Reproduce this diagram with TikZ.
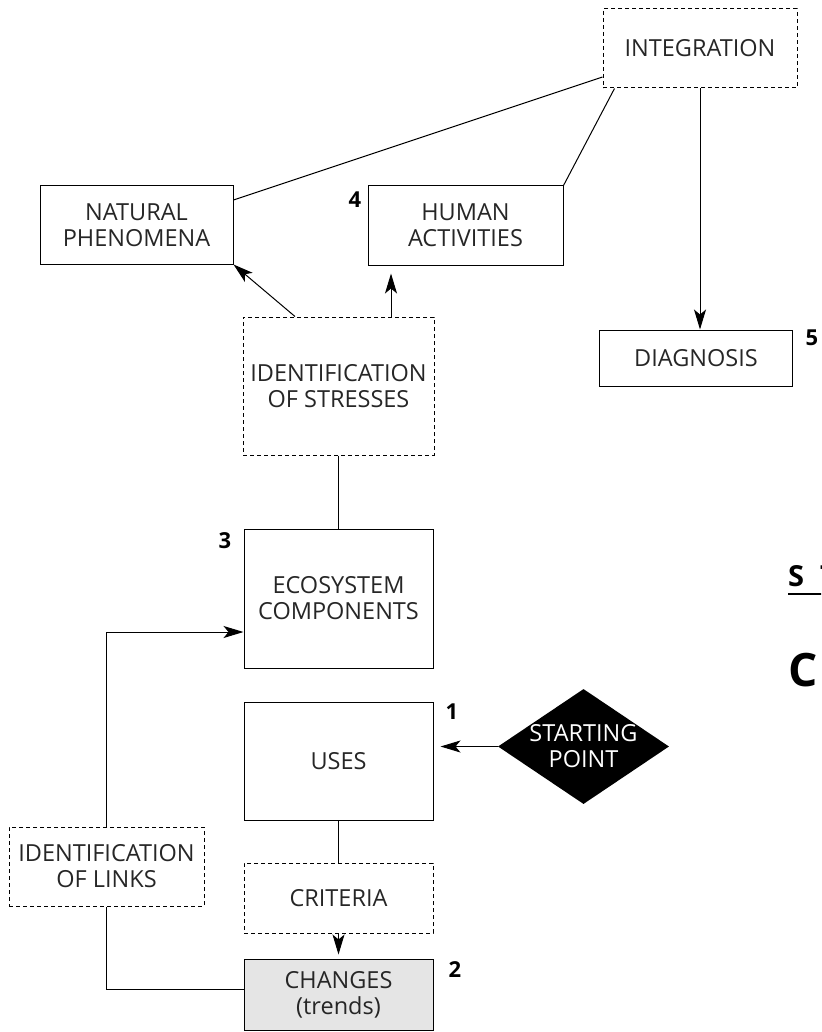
\documentclass[tikz,border=0pt]{standalone}
\usepackage{fontspec}
\setmainfont{Open Sans}
\usetikzlibrary{arrows.meta,shapes.geometric}

\tikzset{
  box/.style={draw, line width=1pt, align=center, inner sep=0pt,
    text=black!85, font=\fontsize{23.5}{26}\selectfont},
  dbox/.style={box, dash pattern=on 4pt off 3pt},
  num/.style={inner sep=0pt, font=\fontsize{22}{24}\selectfont\bfseries},
  arr/.style={-{Stealth[length=20pt,width=12pt,inset=5pt]}, line width=1pt},
}

\begin{document}
\begin{tikzpicture}[x=1pt,y=-1pt]
\useasboundingbox (0,0) rectangle (821,1032);
\clip (0,0) rectangle (821,1032);

% top part
\node[dbox, minimum width=194pt, minimum height=79pt] (integ) at (700,48.5) {INTEGRATION};
\node[box, minimum width=193pt, minimum height=78pt] (natural) at (136.5,225) {NATURAL\\PHENOMENA};
\node[box, minimum width=195pt, minimum height=79pt] (human) at (465.5,225.5) {HUMAN\\ACTIVITIES};
\node[dbox, minimum width=191pt, minimum height=138pt] (stress) at (338.5,386) {IDENTIFICATION\\OF STRESSES};
\node[box, minimum width=193pt, minimum height=56pt] (diag) at (696,358) {DIAGNOSIS};

% middle part
\node[box, minimum width=189pt, minimum height=139pt] (eco) at (338.5,598.5) {ECOSYSTEM\\COMPONENTS};
\node[box, minimum width=189pt, minimum height=118pt] (uses) at (338.5,761) {USES};
\node[diamond, fill=black, inner sep=0pt, minimum width=171pt, minimum height=115pt] (start) at (583.5,746.5) {};
\node[align=center, text=white, inner sep=0pt, font=\fontsize{23.5}{26}\selectfont] (startlbl) at (start) {STARTING\\POINT};

% bottom part
\node[dbox, minimum width=195pt, minimum height=79pt] (links) at (106.5,866.5) {IDENTIFICATION\\OF LINKS};
\node[dbox, minimum width=189pt, minimum height=70pt] (crit) at (338.5,898) {CRITERIA};
\node[box, fill=black!10, minimum width=189pt, minimum height=71pt] (changes) at (338.5,994.5) {CHANGES\\(trends)};

% connectors
\draw[line width=1pt] ([yshift=-28.5pt]integ.west) -- ([yshift=25pt]natural.east);
\draw[line width=1pt] ([xshift=12pt]integ.south west) -- (human.north east);
\draw[arr] (integ.south) -- (integ.south |- diag.north);
\draw[arr] ([xshift=-43.5pt]stress.north) -- (natural.south east);
\draw[arr, shorten >=8pt] ([xshift=52.5pt]stress.north) -- ([xshift=52.5pt]stress.north |- human.south);
\draw[line width=1pt] (stress.south) -- (eco.north);
\draw[arr, shorten >=7pt] (start.west) -- (start.west -| uses.east);
\draw[line width=1pt] (uses.south) -- (crit.north);
\draw[arr, shorten >=4pt] (crit.south) -- (changes.north);
\draw[line width=1pt] ([yshift=5.5pt]changes.west) -| (links.south);
\draw[arr] (links.north) |- ([yshift=-33.5pt]eco.west);

% step numbers
\foreach \n/\px/\py in {1/452/712, 2/455/970, 3/225/541, 4/355/200, 5/812/338}
  \node[num] (num\n) at (\px,\py) {\n};

% cut-off text at the right edge
\node[anchor=base west, inner sep=0pt, font=\fontsize{29}{30}\selectfont\bfseries] (sidehead) at (788,586) {S\hspace{16pt}T};
\draw[line width=1.2pt] ([yshift=-8pt]sidehead.base west) -- ([yshift=-8pt,xshift=40pt]sidehead.base west);
\node[anchor=base west, inner sep=0pt, font=\fontsize{46}{48}\selectfont\bfseries] (sidec) at (788,686) {C};
\end{tikzpicture}
\end{document}
